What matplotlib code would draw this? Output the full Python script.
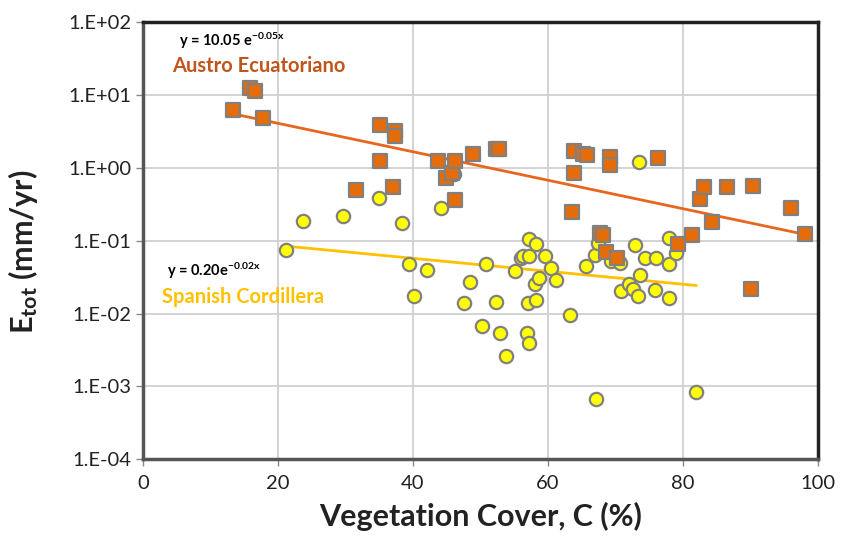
import numpy as np
import matplotlib
matplotlib.use("Agg")
import matplotlib.pyplot as plt
from matplotlib.ticker import FixedLocator, FuncFormatter

# ---- data ----
austro_c = [13.3, 15.95, 16.55, 17.8, 31.65, 35.1, 35.1, 37.4, 37.4, 37.0,
            43.7, 44.85, 45.85, 46.3, 46.3, 48.9, 52.25, 52.75, 63.55, 63.9,
            63.9, 65.2, 65.8, 67.7, 68.2, 68.65, 69.15, 69.15, 70.25, 76.35,
            79.3, 81.4, 82.5, 83.1, 84.25, 86.5, 90.05, 90.4, 96.05, 98.05]
austro_e = [6.2, 12.6, 11.5, 4.8, 0.50, 3.9, 1.25, 3.2, 2.7, 0.54,
            1.25, 0.73, 0.85, 1.25, 0.36, 1.55, 1.8, 1.8, 0.245, 1.7,
            0.85, 1.55, 1.5, 0.129, 0.119, 0.070, 1.4, 1.1, 0.058, 1.35,
            0.089, 0.12, 0.375, 0.54, 0.18, 0.54, 0.022, 0.56, 0.28, 0.125]

spanish_c = [21.25, 23.8, 29.6, 35.0, 38.4, 39.5, 40.1, 42.1, 44.1, 46.1,
             47.6, 48.4, 50.25, 50.9, 52.3, 52.9, 53.8, 55.1, 55.95, 56.25,
             56.85, 57.1, 57.15, 57.2, 57.25, 58.15, 58.2, 58.2, 58.7, 59.55,
             60.5, 61.15, 63.2, 65.65, 66.95, 67.1, 67.4, 69.4, 70.75, 70.8,
             72.05, 72.55, 72.9, 73.3, 73.55, 73.65, 74.35, 75.9, 75.95, 77.9,
             77.9, 77.95, 78.95, 81.95]
spanish_e = [0.0745, 0.186, 0.215, 0.39, 0.176, 0.0485, 0.0176, 0.039, 0.278, 0.83,
             0.0138, 0.0272, 0.00667, 0.0485, 0.0145, 0.00533, 0.00264, 0.0383, 0.058, 0.0625,
             0.00533, 0.0138, 0.0040, 0.104, 0.061, 0.0255, 0.089, 0.0155, 0.0306, 0.062,
             0.042, 0.029, 0.0095, 0.0445, 0.063, 0.00068, 0.094, 0.052, 0.049, 0.0206,
             0.0255, 0.0216, 0.087, 0.0174, 1.22, 0.0334, 0.057, 0.0211, 0.057, 0.048,
             0.0161, 0.108, 0.067, 0.00083]

# trend line parameters (as drawn), y = a * exp(b * x)
austro_trend_a, austro_trend_b = 10.05, -0.045
spanish_trend_a, spanish_trend_b = 0.13, -0.0205

austro_eq = r"y = 10.05 e$^{\mathbf{-0.05x}}$"
spanish_eq = r"y = 0.20e$^{\mathbf{-0.02x}}$"
austro_label = "Austro Ecuatoriano"
spanish_label = "Spanish Cordillera"
x_ticks = [0, 20, 40, 60, 80, 100]
y_exps = [-4, -3, -2, -1, 0, 1, 2]

# ---- style ----
plt.rcParams['font.family'] = ['Lato', 'DejaVu Sans']
plt.rcParams['mathtext.fontset'] = 'custom'
plt.rcParams['mathtext.rm'] = 'Lato'
plt.rcParams['mathtext.bf'] = 'Lato:bold'
plt.rcParams['mathtext.it'] = 'Lato:italic'

fig = plt.figure(figsize=(8.45, 5.39), dpi=100)
ax = fig.add_axes([0.169, 0.148, 0.799, 0.811])

ax.set_yscale('log')
ax.set_xlim(0, 100)
ax.set_ylim(1e-4, 1e2)

ax.grid(True, which='major', color='#d0d0d0', linewidth=1.3)
ax.set_axisbelow(True)
ax.xaxis.set_major_locator(FixedLocator(x_ticks))
ax.yaxis.set_major_locator(FixedLocator([10.0 ** e for e in y_exps]))
ax.yaxis.set_minor_locator(FixedLocator([]))
ax.yaxis.set_major_formatter(FuncFormatter(lambda v, p: "1.E%+03d" % int(round(np.log10(v)))))

ax.tick_params(axis='both', which='major', labelsize=14.5, length=5, width=1,
               color='#888888', labelcolor='#222222', direction='out')
ax.tick_params(axis='x', pad=6)
for s in ax.spines.values():
    s.set_linewidth(2.5)
    s.set_color('#222222')
ax.spines['left'].set_color('#555555')
ax.spines['bottom'].set_color('#555555')

# trend lines
xa = np.linspace(min(austro_c), max(austro_c), 100)
ax.plot(xa, austro_trend_a * np.exp(austro_trend_b * xa), color='#E8661E', lw=2, zorder=2)
xs = np.linspace(min(spanish_c), max(spanish_c), 100)
ax.plot(xs, spanish_trend_a * np.exp(spanish_trend_b * xs), color='#FFC000', lw=2, zorder=2)

ax.scatter(spanish_c, spanish_e, s=92, marker='o', facecolor='#FFFF00',
           edgecolor='#808080', linewidth=1.6, zorder=3)
ax.scatter(austro_c, austro_e, s=88, marker='s', facecolor='#E46C0A',
           edgecolor='#808080', linewidth=1.6, zorder=4)

def fx(px):
    return (px - 143) / 675.0

def fy(py):
    return 1 - (py - 22) / 437.0

ax.text(fx(179), fy(41), austro_eq, transform=ax.transAxes, fontsize=10.5,
        fontweight='bold', color='black', va='center', ha='left')
ax.text(fx(172), fy(66), austro_label, transform=ax.transAxes, fontsize=14.5,
        fontweight='bold', color='#C0561B', va='center', ha='left')
ax.text(fx(167), fy(271), spanish_eq, transform=ax.transAxes, fontsize=10.5,
        fontweight='bold', color='black', va='center', ha='left')
ax.text(fx(162), fy(297), spanish_label, transform=ax.transAxes, fontsize=14.5,
        fontweight='bold', color='#FFC000', va='center', ha='left')

ax.set_xlabel("Vegetation Cover, C (%)", fontsize=22, fontweight='bold',
              color='#222222')
ax.set_ylabel(r"E$_{\mathbf{tot}}$ (mm/yr)", fontsize=22, fontweight='bold',
              color='#222222')
ax.xaxis.set_label_coords(0.50, fy(502))
ax.yaxis.set_label_coords(fx(40), 0.474)

fig.savefig("out.png", dpi=100)
